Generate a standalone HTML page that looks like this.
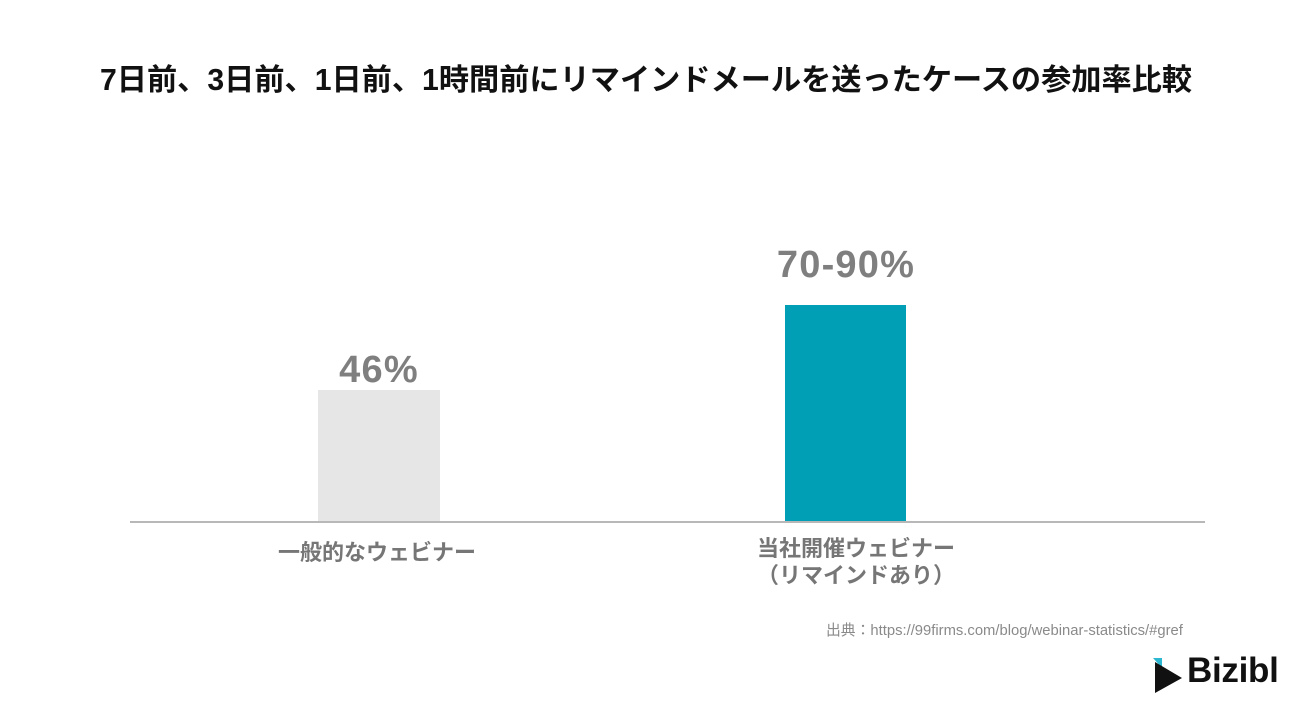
<!DOCTYPE html>
<html><head><meta charset="utf-8"><style>
body{margin:0;width:1300px;height:705px;background:#fff;position:relative;overflow:hidden;font-family:"Liberation Sans","Noto Sans CJK JP",sans-serif}
div{position:absolute}
.t{left:0;width:1292px;top:55px;text-align:center;font-size:30.2px;font-weight:bold;color:#111;white-space:nowrap}
.v{font-size:38px;font-weight:bold;color:#7f7f7f;text-align:center;width:300px;letter-spacing:1.2px}
.c{font-size:22px;font-weight:bold;color:#767676;white-space:nowrap;line-height:27px}
</style></head><body>
<div class="t">7日前、3日前、1日前、1時間前にリマインドメールを送ったケースの参加率比較</div>
<div style="left:318px;top:390px;width:122px;height:132px;background:#e6e6e6"></div>
<div style="left:785px;top:305px;width:121px;height:217px;background:#009fb5"></div>
<div style="left:130px;top:521px;width:1075px;height:1.5px;background:#b8b8b8"></div>
<div class="v" style="left:229px;top:349px">46%</div>
<div class="v" style="left:696px;top:244px">70-90%</div>
<div class="c" style="left:278px;top:539px">一般的なウェビナー</div>
<div class="c" style="left:757px;top:535px">当社開催ウェビナー<br>（リマインドあり）</div>
<div style="left:826px;top:619px;font-size:14.8px;color:#8a8a8a;white-space:nowrap">出典：https://99firms.com/blog/webinar-statistics/#gref</div>
<svg style="position:absolute;left:1152px;top:656px" width="34" height="38"><polygon points="1,2 10,2 10,12" fill="#2bb7d0"/><polygon points="3,6 30,22 3,37" fill="#111"/></svg>
<div style="left:1187px;top:651px;font-size:35px;font-weight:bold;color:#111;letter-spacing:-0.3px">Bizibl</div>
</body></html>
